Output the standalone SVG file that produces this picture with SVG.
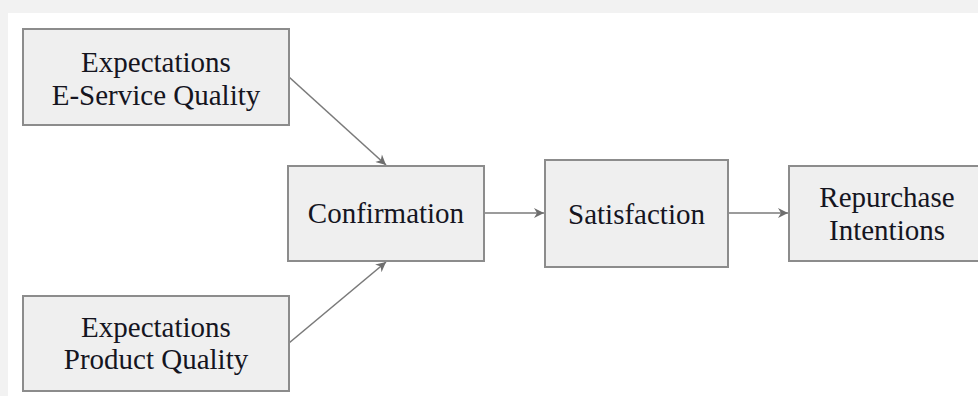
<svg xmlns="http://www.w3.org/2000/svg" width="978" height="396" viewBox="0 0 978 396">
<style>
.box{fill:#efefef;stroke:#8c8c8c;stroke-width:2}
.lbl{font-family:"Liberation Serif","Times New Roman",serif;font-size:29px;fill:#15151f;text-anchor:middle}
.edge{stroke:#7a7a7a;stroke-width:1.6;fill:none;marker-end:url(#arr)}
</style>
<defs>
<marker id="arr" viewBox="0 0 10 10" refX="10" refY="5" markerWidth="11" markerHeight="10" markerUnits="userSpaceOnUse" orient="auto">
<path d="M0,0 L10,5 L0,10 L3,5 Z" fill="#6e6e6e"/>
</marker>
</defs>
<rect x="0" y="0" width="978" height="396" fill="#f2f2f2"/>
<rect x="8" y="13" width="980" height="390" fill="#ffffff"/>
<g id="connectors">
<line class="edge" x1="289" y1="77" x2="386" y2="165"/>
<line class="edge" x1="289" y1="343" x2="386" y2="262"/>
<line class="edge" x1="484" y1="213" x2="544" y2="213"/>
<line class="edge" x1="728" y1="213" x2="788" y2="213"/>
</g>
<g id="exp-eservice">
<rect class="box" x="23" y="29" width="266" height="96"/>
<text class="lbl" x="156" y="71.5">Expectations</text>
<text class="lbl" x="156" y="105">E-Service Quality</text>
</g>
<g id="exp-product">
<rect class="box" x="23" y="296" width="266" height="95"/>
<text class="lbl" x="156" y="337">Expectations</text>
<text class="lbl" x="156" y="369">Product Quality</text>
</g>
<g id="confirmation">
<rect class="box" x="288" y="166" width="196" height="95"/>
<text class="lbl" x="386" y="223">Confirmation</text>
</g>
<g id="satisfaction">
<rect class="box" x="545" y="160" width="183" height="107"/>
<text class="lbl" x="636.5" y="224">Satisfaction</text>
</g>
<g id="repurchase">
<rect class="box" x="789" y="166" width="196" height="95"/>
<text class="lbl" x="887" y="207">Repurchase</text>
<text class="lbl" x="887" y="240">Intentions</text>
</g>
</svg>
